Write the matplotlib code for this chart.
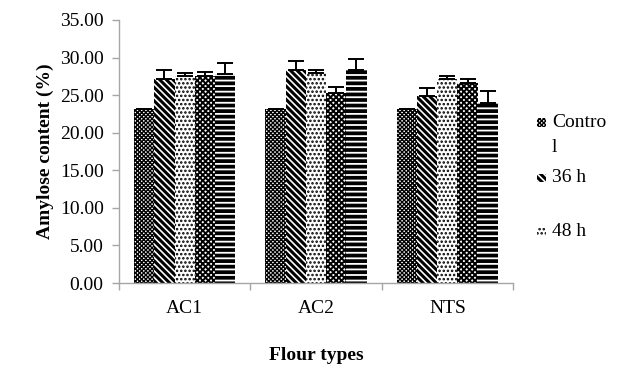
import numpy as np
import matplotlib.pyplot as plt
from matplotlib.patches import Rectangle

plt.rcParams['font.family'] = ['Liberation Serif', 'DejaVu Serif']

flours = ['AC1', 'AC2', 'NTS']
series = ['Control', '36 h', '48 h', '60 h', '72 h']

# mean amylose content (%) per flour, one list per treatment
control = [23.2, 23.2, 23.2]
h36 = [27.2, 28.3, 24.9]
h48 = [27.5, 28.0, 27.2]
h60 = [27.5, 25.3, 26.6]
h72 = [27.8, 28.3, 24.0]

# standard deviations
control_err = [0.0, 0.0, 0.0]
h36_err = [1.1, 1.2, 1.1]
h48_err = [0.4, 0.4, 0.3]
h60_err = [0.6, 0.8, 0.6]
h72_err = [1.5, 1.5, 1.6]

values = [control, h36, h48, h60, h72]
errors = [control_err, h36_err, h48_err, h60_err, h72_err]
hatches = ['xxxxxxxx', '\\\\\\\\\\', '....', 'xxxxxx', '---']
hatch_lw = [1.0, 2.2, 1.2, 1.4, 1.3]
faces = ['white', 'white', 'white', 'white', 'black']
hcolors = ['black', 'black', 'black', 'black', 'white']

fig = plt.figure(figsize=(6.21, 3.70), dpi=100)
ax = fig.add_axes([0.1916, 0.235, 0.6345, 0.711])

x = np.arange(len(flours))
w = 0.154
for i in range(len(series)):
    pos = x + (i - 2) * w
    bars = ax.bar(pos, values[i], w, color=faces[i], edgecolor=hcolors[i],
                  hatch=hatches[i], linewidth=0, zorder=2)
    for b in bars:
        b.set_hatch_linewidth(hatch_lw[i])
    ax.errorbar(pos, values[i], yerr=[np.zeros(3), errors[i]], fmt='none',
                ecolor='black', elinewidth=1.4, capsize=5.5, capthick=1.4, zorder=3)

ax.set_xlim(-0.5, 2.5)
ax.set_ylim(0, 35)
ax.set_yticks(np.arange(0, 35.01, 5))
ax.set_yticklabels(['%.2f' % v for v in np.arange(0, 35.01, 5)])
ax.set_xticks(x)
ax.set_xticklabels(flours)
ax.set_xticks([-0.5, 0.5, 1.5, 2.5], minor=True)
ax.tick_params(axis='x', which='major', length=0, pad=12, labelsize=14)
ax.tick_params(axis='x', which='minor', length=5, color='#a6a6a6', width=1)
ax.tick_params(axis='y', length=5, color='#a6a6a6', width=1, labelsize=14, pad=6)

for s in ['top', 'right']:
    ax.spines[s].set_visible(False)
for s in ['left', 'bottom']:
    ax.spines[s].set_color('#a6a6a6')
    ax.spines[s].set_linewidth(1)

ax.set_ylabel('Amylose content (%)', fontsize=14, fontweight='bold', labelpad=4)
fig.text(0.509, 0.04, 'Flour types', ha='center', va='center',
         fontsize=14, fontweight='bold')

# legend (truncated as in the original)
leg_labels = ['Contro', '36 h', '48 h']
leg_y = [0.670, 0.519, 0.373]
for i, (lab, yy) in enumerate(zip(leg_labels, leg_y)):
    r = Rectangle((0.865, yy - 0.012), 0.014, 0.024,
                  transform=fig.transFigure, facecolor=faces[i],
                  edgecolor=hcolors[i], hatch=hatches[i], linewidth=0)
    r.set_hatch_linewidth(hatch_lw[i])
    fig.add_artist(r)
    fig.text(0.889, yy, lab, ha='left', va='center', fontsize=14)
fig.text(0.889, 0.600, 'l', ha='left', va='center', fontsize=14)

fig.savefig('out.png', dpi=100)
